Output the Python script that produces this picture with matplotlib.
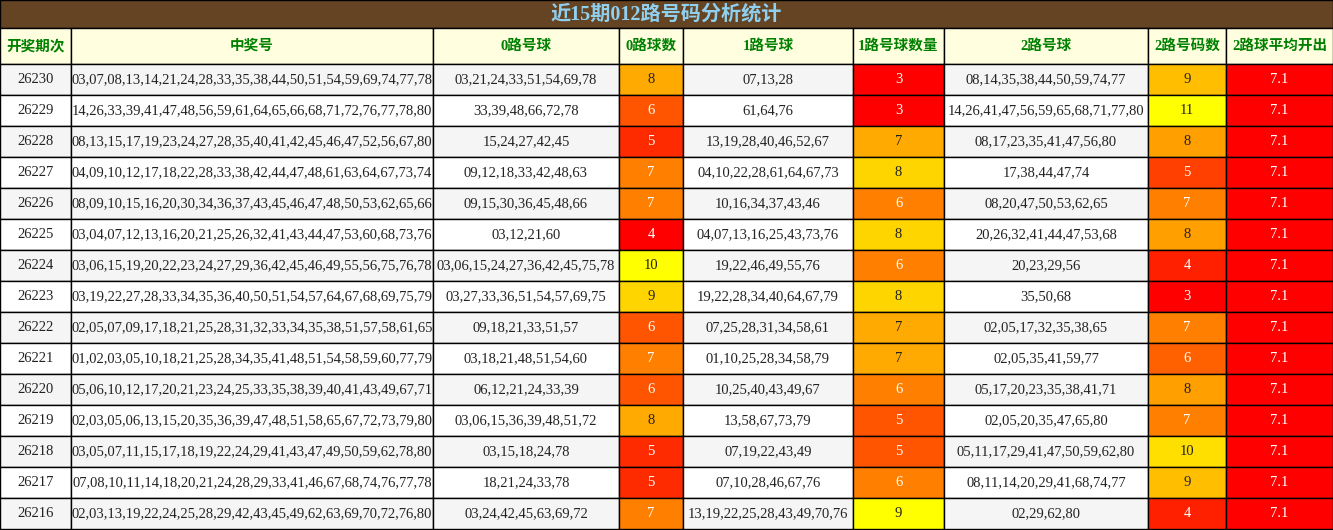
import matplotlib.pyplot as plt
import matplotlib.patches as patches

plt.rcParams['font.family'] = ['Liberation Serif', 'Noto Sans CJK SC', 'DejaVu Sans']

title = "近15期012路号码分析统计"
headers = ["开奖期次", "中奖号", "0路号球", "0路球数", "1路号球", "1路号球数量", "2路号球", "2路号码数", "2路球平均开出"]

periods = ["26230", "26229", "26228", "26227", "26226", "26225", "26224", "26223",
           "26222", "26221", "26220", "26219", "26218", "26217", "26216"]
draws = [
    "03,07,08,13,14,21,24,28,33,35,38,44,50,51,54,59,69,74,77,78",
    "14,26,33,39,41,47,48,56,59,61,64,65,66,68,71,72,76,77,78,80",
    "08,13,15,17,19,23,24,27,28,35,40,41,42,45,46,47,52,56,67,80",
    "04,09,10,12,17,18,22,28,33,38,42,44,47,48,61,63,64,67,73,74",
    "08,09,10,15,16,20,30,34,36,37,43,45,46,47,48,50,53,62,65,66",
    "03,04,07,12,13,16,20,21,25,26,32,41,43,44,47,53,60,68,73,76",
    "03,06,15,19,20,22,23,24,27,29,36,42,45,46,49,55,56,75,76,78",
    "03,19,22,27,28,33,34,35,36,40,50,51,54,57,64,67,68,69,75,79",
    "02,05,07,09,17,18,21,25,28,31,32,33,34,35,38,51,57,58,61,65",
    "01,02,03,05,10,18,21,25,28,34,35,41,48,51,54,58,59,60,77,79",
    "05,06,10,12,17,20,21,23,24,25,33,35,38,39,40,41,43,49,67,71",
    "02,03,05,06,13,15,20,35,36,39,47,48,51,58,65,67,72,73,79,80",
    "03,05,07,11,15,17,18,19,22,24,29,41,43,47,49,50,59,62,78,80",
    "07,08,10,11,14,18,20,21,24,28,29,33,41,46,67,68,74,76,77,78",
    "02,03,13,19,22,24,25,28,29,42,43,45,49,62,63,69,70,72,76,80",
]
road0 = ["03,21,24,33,51,54,69,78", "33,39,48,66,72,78", "15,24,27,42,45", "09,12,18,33,42,48,63",
         "09,15,30,36,45,48,66", "03,12,21,60", "03,06,15,24,27,36,42,45,75,78", "03,27,33,36,51,54,57,69,75",
         "09,18,21,33,51,57", "03,18,21,48,51,54,60", "06,12,21,24,33,39", "03,06,15,36,39,48,51,72",
         "03,15,18,24,78", "18,21,24,33,78", "03,24,42,45,63,69,72"]
count0 = [8, 6, 5, 7, 7, 4, 10, 9, 6, 7, 6, 8, 5, 5, 7]
road1 = ["07,13,28", "61,64,76", "13,19,28,40,46,52,67", "04,10,22,28,61,64,67,73",
         "10,16,34,37,43,46", "04,07,13,16,25,43,73,76", "19,22,46,49,55,76", "19,22,28,34,40,64,67,79",
         "07,25,28,31,34,58,61", "01,10,25,28,34,58,79", "10,25,40,43,49,67", "13,58,67,73,79",
         "07,19,22,43,49", "07,10,28,46,67,76", "13,19,22,25,28,43,49,70,76"]
count1 = [3, 3, 7, 8, 6, 8, 6, 8, 7, 7, 6, 5, 5, 6, 9]
road2 = ["08,14,35,38,44,50,59,74,77", "14,26,41,47,56,59,65,68,71,77,80", "08,17,23,35,41,47,56,80",
         "17,38,44,47,74", "08,20,47,50,53,62,65", "20,26,32,41,44,47,53,68", "20,23,29,56", "35,50,68",
         "02,05,17,32,35,38,65", "02,05,35,41,59,77", "05,17,20,23,35,38,41,71", "02,05,20,35,47,65,80",
         "05,11,17,29,41,47,50,59,62,80", "08,11,14,20,29,41,68,74,77", "02,29,62,80"]
count2 = [9, 11, 8, 5, 7, 8, 4, 3, 7, 6, 8, 7, 10, 9, 4]
avg2 = ["7.1"] * 15

W, H = 1333, 530
col_x = [0, 71, 433, 619, 683, 853, 944, 1148, 1226, 1333]
title_h, head_h, row_h = 28, 36, 31

fig = plt.figure(figsize=(W / 100, H / 100), dpi=100)
ax = fig.add_axes([0, 0, 1, 1])
ax.set_xlim(0, W)
ax.set_ylim(H, 0)
ax.axis('off')


def heat(v, lo, hi):
    t = (v - lo) / (hi - lo)
    return (1.0, t, 0.0)


def cell(x0, x1, y0, h, text, bg, fc='#222222', **kw):
    ax.add_patch(patches.Rectangle((x0, y0), x1 - x0, h, facecolor=bg, edgecolor='black', lw=1))
    ax.text((x0 + x1) / 2, y0 + h / 2, text, ha='center', va='center', color=fc, fontsize=10.5, **kw)


ax.add_patch(patches.Rectangle((0, 0), W, title_h, facecolor='#654423', edgecolor='black', lw=1))
ax.text(W / 2, title_h / 2 + 1, title, ha='center', va='center', color='#8fd0f0', fontsize=14.5, fontweight='bold')

for i, h in enumerate(headers):
    cell(col_x[i], col_x[i + 1], title_h, head_h, h, '#ffffe0', fc='#008000', fontweight='bold')

counts = {3: count0, 5: count1, 7: count2}
for r in range(len(periods)):
    y0 = title_h + head_h + r * row_h
    bg = '#f5f5f5' if r % 2 == 0 else 'white'
    vals = [periods[r], draws[r], road0[r], count0[r], road1[r], count1[r], road2[r], count2[r], avg2[r]]
    for c, v in enumerate(vals):
        if c in counts:
            col = counts[c]
            rgb = heat(v, min(col), max(col))
            fc = '#222222' if rgb[1] >= 0.6 else 'white'
            cell(col_x[c], col_x[c + 1], y0, row_h, str(v), rgb, fc=fc)
        elif c == 8:
            cell(col_x[c], col_x[c + 1], y0, row_h, v, '#ff0000', fc='white')
        else:
            cell(col_x[c], col_x[c + 1], y0, row_h, v, bg)

fig.savefig("out.png", dpi=100)
